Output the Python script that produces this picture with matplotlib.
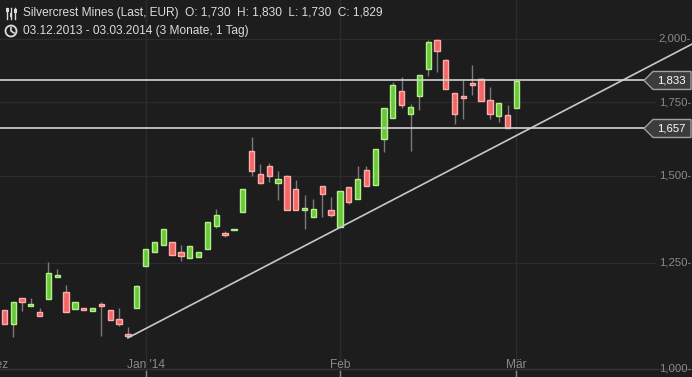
import numpy as np
import matplotlib
matplotlib.use('Agg')
import matplotlib.pyplot as plt
from matplotlib.patches import Polygon, Circle
from matplotlib.transforms import IdentityTransform

# Kursdaten (EUR), ein Eintrag pro Handelstag
opens = [1.131, 1.099, 1.160, 1.142, 1.126, 1.159, 1.213, 1.174, 1.134, 1.136,
         1.128, 1.146, 1.131, 1.110, 1.076, 1.137, 1.242, 1.279, 1.298, 1.304,
         1.278, 1.263, 1.266, 1.287, 1.351, 1.330, 1.339, 1.389, 1.579, 1.506,
         1.531, 1.479, 1.500, 1.458, 1.397, 1.375, 1.467, 1.395, 1.348, 1.464,
         1.428, 1.518, 1.470, 1.620, 1.693, 1.792, 1.707, 1.773, 1.877, 1.995,
         1.912, 1.784, 1.773, 1.822, 1.838, 1.758, 1.700, 1.704, 1.730]
highs = [1.131, 1.150, 1.160, 1.161, 1.136, 1.252, 1.233, 1.192, 1.150, 1.136,
         1.136, 1.151, 1.131, 1.136, 1.092, 1.192, 1.285, 1.304, 1.341, 1.304,
         1.297, 1.293, 1.277, 1.360, 1.399, 1.336, 1.341, 1.458, 1.629, 1.538,
         1.541, 1.515, 1.503, 1.487, 1.441, 1.429, 1.467, 1.435, 1.452, 1.464,
         1.531, 1.531, 1.586, 1.729, 1.826, 1.846, 1.743, 1.853, 1.996, 2.000,
         1.916, 1.784, 1.834, 1.894, 1.841, 1.807, 1.747, 1.740, 1.830]
lows = [1.099, 1.070, 1.130, 1.142, 1.116, 1.159, 1.213, 1.126, 1.134, 1.132,
        1.128, 1.072, 1.108, 1.095, 1.071, 1.137, 1.242, 1.279, 1.298, 1.271,
        1.255, 1.263, 1.266, 1.287, 1.345, 1.320, 1.339, 1.389, 1.500, 1.475,
        1.482, 1.427, 1.397, 1.397, 1.341, 1.375, 1.376, 1.375, 1.348, 1.413,
        1.428, 1.467, 1.470, 1.578, 1.693, 1.731, 1.581, 1.724, 1.851, 1.867,
        1.799, 1.672, 1.691, 1.779, 1.754, 1.689, 1.679, 1.658, 1.730]
closes = [1.099, 1.150, 1.150, 1.145, 1.116, 1.222, 1.218, 1.126, 1.150, 1.132,
          1.136, 1.142, 1.108, 1.099, 1.072, 1.190, 1.285, 1.304, 1.341, 1.271,
          1.268, 1.293, 1.277, 1.360, 1.381, 1.325, 1.341, 1.458, 1.516, 1.479,
          1.500, 1.489, 1.397, 1.397, 1.401, 1.398, 1.443, 1.381, 1.452, 1.419,
          1.489, 1.467, 1.586, 1.729, 1.814, 1.742, 1.732, 1.853, 1.986, 1.949,
          1.799, 1.707, 1.768, 1.817, 1.754, 1.707, 1.747, 1.658, 1.829]

# Achsenbeschriftung
month_labels = ['Dez', "Jan '14", 'Feb', 'Mär']
month_pos = [-0.75, 16, 38, 58]
y_ticks = [1.0, 1.25, 1.5, 1.75, 2.0]
levels = [1.833, 1.657]
trend_x = [14, 77.9]
trend_y = [1.067, 1.979]

title = 'Silvercrest Mines (Last, EUR)  O: 1,730  H: 1,830  L: 1,730  C: 1,829'
subtitle = '03.12.2013 - 03.03.2014 (3 Monate, 1 Tag)'

W, H = 692, 377
BG = '#1d1d1d'
GRID = '#2c2c2c'
FONT = ['Liberation Sans', 'DejaVu Sans']

fig = plt.figure(figsize=(W / 100, H / 100), dpi=100, facecolor=BG)
ax = fig.add_axes([0, 0, 1, 1], facecolor=BG)
ax.set_yscale('log')
ax.set_xlim(-0.49, 77.88)
ax.set_ylim(0.9827, 2.1708)
ax.axis('off')

def fx(px):
    return px / W

def fy(py):
    return 1 - py / H

# Gitter
xmax_grid = 655 / W
for v in y_ticks:
    ax.axhline(v, xmin=0, xmax=xmax_grid, color=GRID, lw=1, zorder=0)
for p in month_pos[1:]:
    ax.axvline(p, color=GRID, lw=1, zorder=0)
ax.axhline(1.0, color='#333333', lw=1, zorder=0)

# Kerzen
x = np.arange(len(opens))
o = np.array(opens)
c = np.array(closes)
up = c >= o
ax.vlines(x, lows, highs, color='#7a7a7a', lw=1, zorder=2)
bottom = np.minimum(o, c)
height = np.abs(c - o)
ax.bar(x[up], height[up], bottom=bottom[up], width=0.6,
       color='#68c83a', edgecolor='#b2f08a', lw=1, zorder=3)
ax.bar(x[~up], height[~up], bottom=bottom[~up], width=0.6,
       color='#f26666', edgecolor='#ffabab', lw=1, zorder=3)

# Trendlinie
ax.plot(trend_x, trend_y, color='#c8c8c8', lw=1.2, zorder=4)

# horizontale Linien mit Kursmarken
fig.canvas.draw()
for lv in levels:
    ax.axhline(lv, xmin=0, xmax=645 / W, color='#d4d4d4', lw=1.2, zorder=4)
    _, yd = ax.transData.transform((0, lv))
    poly = Polygon([(644, yd), (653, yd + 9), (691, yd + 9), (691, yd - 9), (653, yd - 9)],
                   closed=True, transform=IdentityTransform(),
                   facecolor='#3c3c3c', edgecolor='#a0a0a0', lw=1, zorder=5)
    fig.patches.append(poly)
    fig.text(fx(671), yd / H, f'{lv:.3f}'.replace('.', ','), color='white',
             fontsize=8.2, family=FONT, ha='center', va='center', zorder=6)

# y-Beschriftung
for v in y_ticks:
    _, yd = ax.transData.transform((0, v))
    fig.text(fx(691), yd / H, f'{v:.3f}'.replace('.', ',') + '-', color='#8a8a8a',
             fontsize=8.2, family=FONT, ha='right', va='center')

# x-Beschriftung
for lab, p in zip(month_labels, month_pos):
    xd, _ = ax.transData.transform((p, 1.0))
    fig.text(xd / W, fy(365), lab, color='#8a8a8a', fontsize=8.6,
             family=FONT, ha='center', va='center')
    ax.plot([xd / W, xd / W], [fy(371), fy(377)], transform=fig.transFigure,
            color='#8a8a8a', lw=1, clip_on=False)

# Titel
fig.text(fx(23), fy(13), title, color='#dcdcdc', fontsize=8.6, family=FONT, va='center')
fig.text(fx(23), fy(31), subtitle, color='#dcdcdc', fontsize=8.6, family=FONT, va='center')

# Symbole
for xs, ks in [(7, 10), (11, 15), (15, 11)]:
    fig.lines.append(plt.Line2D([fx(xs), fx(xs)], [fy(8), fy(19)], color='#dcdcdc',
                                lw=1, transform=fig.transFigure))
    fig.patches.append(plt.Rectangle((fx(xs - 1.5), fy(ks + 1.5)), 3 / W, 3 / H,
                                     facecolor='#dcdcdc', transform=fig.transFigure))
fig.patches.append(Circle((11, H - 31), 5.5, transform=IdentityTransform(),
                          fill=False, edgecolor='#dcdcdc', lw=1.3))
fig.lines.append(plt.Line2D([fx(11), fx(11), fx(14)], [fy(27.5), fy(31), fy(33)],
                            color='#dcdcdc', lw=1.2, transform=fig.transFigure))

fig.savefig('out.png', dpi=100, facecolor=BG)
